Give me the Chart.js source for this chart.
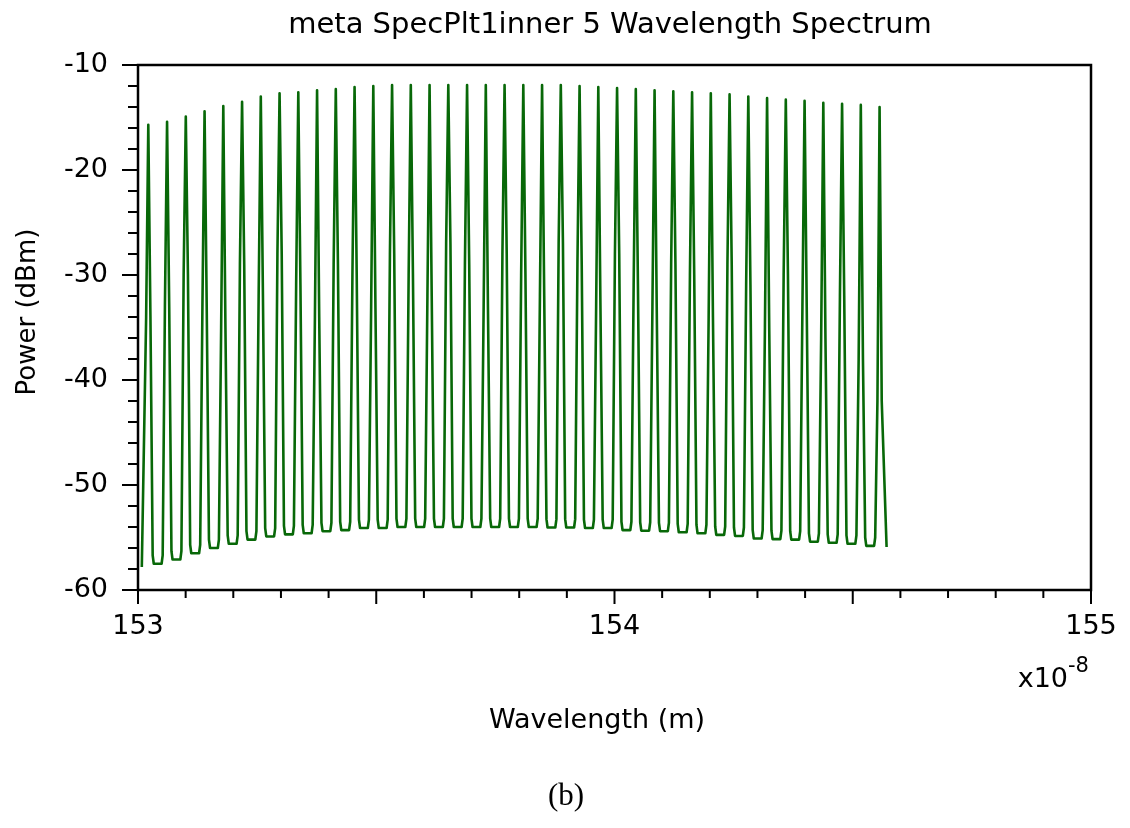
<!DOCTYPE html>
<html>
<head>
<meta charset="utf-8">
<title>meta SpecPlt1inner 5 Wavelength Spectrum</title>
<script src="https://cdn.jsdelivr.net/npm/chart.js@4.4.1/dist/chart.umd.min.js"></script>
<style>
  html,body{margin:0;padding:0;background:#fff;}
  #wrap{position:relative;width:1130px;height:828px;}
</style>
</head>
<body>
<div id="wrap"><canvas id="spec" width="1130" height="828"></canvas></div>
<script>
// channel peaks, wavelength in units of 1e-8 m
const peakWl = [153.0216,153.0610,153.1003,153.1397,153.1790,153.2184,153.2577,153.2971,153.3364,153.3758,
                153.4151,153.4545,153.4938,153.5332,153.5725,153.6119,153.6512,153.6906,153.7299,153.7693,
                153.8086,153.8480,153.8873,153.9267,153.9660,154.0054,154.0447,154.0841,154.1234,154.1628,
                154.2021,154.2415,154.2808,154.3202,154.3595,154.3989,154.4382,154.4776,154.5169,154.5563];
// peak power, dBm
const peakDbm = [-15.7,-15.4,-14.9,-14.4,-13.9,-13.5,-13.0,-12.7,-12.6,-12.4,
                 -12.3,-12.1,-12.0,-11.9,-11.9,-11.9,-11.9,-11.9,-11.9,-11.9,
                 -11.9,-11.9,-11.9,-12.0,-12.1,-12.2,-12.3,-12.4,-12.5,-12.6,
                 -12.7,-12.8,-13.0,-13.15,-13.3,-13.4,-13.6,-13.7,-13.8,-14.0];
// sample either side of each peak (the kink half way down)
const shoulderDbm = [-34,-33,-30,-33,-35,-29,-32,-28,-31,-34,-29,-30,-33,-28,-30,-32,-27,-29,-33,-28,
                     -30,-32,-27,-29,-33,-28,-31,-33,-29,-30,-34,-29,-31,-35,-30,-33,-36,-32,-38,-42];
// floor between neighbouring peaks
const troughDbm = [-57.5,-57.1,-56.5,-56.0,-55.6,-55.2,-54.9,-54.7,-54.6,-54.4,
                   -54.3,-54.1,-54.1,-54.0,-54.0,-54.0,-54.0,-54.0,-54.0,-54.0,
                   -54.0,-54.05,-54.05,-54.1,-54.1,-54.3,-54.35,-54.4,-54.5,-54.6,
                   -54.75,-54.85,-55.1,-55.15,-55.2,-55.4,-55.5,-55.6,-55.8];
const traceStart = [153.008, -57.8];
const traceEnd = [154.571, -55.9];
const xTickLabels = [153, 154, 155];
const yTickLabels = [-60, -50, -40, -30, -20, -10];

// build the polyline from the read values
const pts = [{x: traceStart[0], y: traceStart[1]}];
peakWl.forEach((wl, i) => {
  if (i > 0) {
    const t = troughDbm[i - 1];
    pts.push({x: wl - 0.0115, y: t});
    pts.push({x: wl - 0.0092, y: t + 0.8});
  }
  pts.push({x: wl - 0.0045, y: shoulderDbm[i]});
  pts.push({x: wl, y: peakDbm[i]});
  pts.push({x: wl + 0.0045, y: shoulderDbm[i]});
  if (i < peakWl.length - 1) {
    const t = troughDbm[i];
    pts.push({x: wl + 0.0092, y: t + 0.8});
    pts.push({x: wl + 0.0115, y: t});
  }
});
pts.push({x: traceEnd[0], y: traceEnd[1]});

const FONT = '"DejaVu Sans", "Liberation Sans", Arial, sans-serif';

// box, outward tick marks and the free text
const framePlugin = {
  id: 'frame',
  afterDraw(chart){
    const {ctx, chartArea: a, scales: {x, y}} = chart;
    ctx.save();
    ctx.strokeStyle = '#000';
    ctx.lineWidth = 2.5;
    ctx.strokeRect(a.left, a.top, a.right - a.left, a.bottom - a.top);
    ctx.lineWidth = 2;
    ctx.beginPath();
    for(let k=0;k<=20;k++){
      const px = x.getPixelForValue(153 + k/10);
      const len = (k % 5 === 0) ? 14 : 8;
      ctx.moveTo(px, a.bottom); ctx.lineTo(px, a.bottom + len);
    }
    for(let k=0;k<=25;k++){
      const py = y.getPixelForValue(-60 + 2*k);
      const len = (k % 5 === 0) ? 16 : 10;
      ctx.moveTo(a.left, py); ctx.lineTo(a.left - len, py);
    }
    ctx.stroke();

    ctx.fillStyle = '#000';
    ctx.textAlign = 'center';
    ctx.textBaseline = 'alphabetic';
    ctx.font = '29px ' + FONT;
    ctx.fillText('meta SpecPlt1inner 5 Wavelength Spectrum', 610, 33);
    ctx.font = '27px ' + FONT;
    ctx.fillText('Wavelength (m)', 597, 728);
    ctx.textAlign = 'right';
    ctx.fillText('x10', 1068, 687);
    ctx.textAlign = 'left';
    ctx.font = '21px ' + FONT;
    ctx.fillText('-8', 1068, 672);
    ctx.textAlign = 'center';
    ctx.font = '31px "Liberation Serif", "Times New Roman", serif';
    ctx.fillText('(b)', 566, 805);

    ctx.translate(28, 312);
    ctx.rotate(-Math.PI/2);
    ctx.textBaseline = 'middle';
    ctx.font = '26px ' + FONT;
    ctx.fillText('Power (dBm)', 0, 0);
    ctx.restore();
  }
};

new Chart(document.getElementById('spec'), {
  type: 'line',
  data: { datasets: [{ data: pts, borderColor: '#086808', borderWidth: 2.6, pointRadius: 0, tension: 0, fill: false, borderJoinStyle: 'round' }] },
  options: {
    responsive: false, animation: false, events: [],
    layout: { padding: { left: 0, right: 39, top: 65, bottom: 0 } },
    plugins: { legend: {display:false}, title: {display:false}, tooltip: {enabled:false} },
    scales: {
      x: {
        type: 'linear', min: 153, max: 155,
        afterFit: s => { s.height = 238; s.paddingLeft = 0; s.paddingRight = 0; },
        grid: { display:false, drawTicks:false }, border: { display:false },
        ticks: { stepSize: 1, padding: 21, maxRotation: 0, color: '#000', font: { family: FONT, size: 27 },
                 callback: v => xTickLabels.includes(v) ? String(v) : '' }
      },
      y: {
        type: 'linear', min: -60, max: -10,
        afterFit: s => { s.width = 138; s.paddingTop = 0; s.paddingBottom = 0; },
        grid: { display:false, drawTicks:false }, border: { display:false },
        ticks: { stepSize: 10, padding: 30, color: '#000', font: { family: FONT, size: 27 },
                 callback: v => yTickLabels.includes(v) ? String(v) : '' }
      }
    }
  },
  plugins: [framePlugin]
});
</script>
</body>
</html>
